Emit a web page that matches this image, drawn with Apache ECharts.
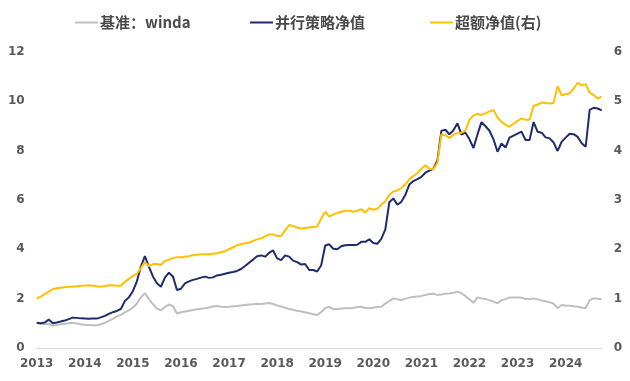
<!DOCTYPE html>
<html>
<head>
<meta charset="utf-8">
<script src="https://cdn.jsdelivr.net/npm/echarts@6/dist/echarts.min.js"></script>
<style>
html,body{margin:0;padding:0;background:#fff;}
#chart{width:630px;height:381px;}
</style>
</head>
<body>
<div id="chart"></div>
<script>
// Monthly categories from 2013-01 (142 months)
const startYear = 2013;
const monthCount = 142;
const months = [];
for (let k = 0; k < monthCount; k++) {
  const y = startYear + Math.floor(k / 12);
  const m = (k % 12) + 1;
  months.push(y + '-' + (m < 10 ? '0' + m : '' + m));
}
const yearLabels = ['2013','2014','2015','2016','2017','2018','2019','2020','2021','2022','2023','2024'];

const seriesNames = ['基准：winda', '并行策略净值', '超额净值(右)'];

// 基准：winda (left axis)
const benchmark = [
1.00,0.98,0.97,0.98,0.90,0.93,0.96,0.98,1.00,1.02,0.99,0.96,
0.94,0.93,0.92,0.92,0.96,1.02,1.10,1.18,1.28,1.34,1.44,1.52,
1.64,1.80,2.05,2.22,1.98,1.78,1.60,1.52,1.66,1.76,1.70,1.40,
1.45,1.48,1.51,1.54,1.57,1.59,1.61,1.64,1.68,1.70,1.67,1.66,
1.67,1.69,1.70,1.72,1.74,1.76,1.77,1.79,1.78,1.80,1.82,1.78,
1.72,1.68,1.63,1.58,1.55,1.51,1.48,1.45,1.41,1.37,1.34,1.45,
1.62,1.66,1.58,1.58,1.60,1.61,1.61,1.62,1.66,1.67,1.62,1.61,
1.63,1.66,1.67,1.80,1.90,2.01,1.97,1.94,2.00,2.04,2.07,2.09,
2.11,2.15,2.19,2.20,2.15,2.17,2.20,2.21,2.24,2.28,2.22,2.10,
1.97,1.83,2.05,2.01,1.98,1.94,1.88,1.81,1.94,1.98,2.05,2.05,
2.05,2.04,1.98,1.97,2.01,1.97,1.92,1.89,1.85,1.80,1.62,1.74,
1.72,1.71,1.69,1.67,1.64,1.61,1.94,2.01,1.99,1.97
];

// 并行策略净值 (left axis)
const strategy = [
1.02,1.00,1.03,1.15,1.00,1.03,1.07,1.11,1.17,1.23,1.22,1.20,
1.19,1.18,1.19,1.19,1.24,1.30,1.38,1.45,1.50,1.58,1.90,2.05,
2.30,2.70,3.30,3.72,3.30,2.90,2.62,2.48,2.85,3.05,2.90,2.35,
2.40,2.62,2.70,2.76,2.80,2.85,2.89,2.84,2.86,2.94,2.97,3.01,
3.05,3.08,3.12,3.20,3.32,3.45,3.58,3.72,3.75,3.70,3.85,3.95,
3.63,3.56,3.75,3.70,3.54,3.48,3.38,3.40,3.16,3.16,3.10,3.35,
4.15,4.20,4.02,4.00,4.12,4.16,4.17,4.17,4.18,4.30,4.30,4.40,
4.25,4.22,4.42,4.80,5.90,6.06,5.80,5.92,6.20,6.62,6.76,6.84,
6.93,7.10,7.18,7.26,7.60,8.80,8.84,8.65,8.82,9.10,8.64,8.72,
8.45,8.10,8.65,9.15,8.98,8.80,8.45,7.95,8.28,8.12,8.52,8.60,
8.68,8.76,8.42,8.42,9.15,8.76,8.72,8.53,8.49,8.32,7.98,8.35,
8.52,8.68,8.66,8.55,8.29,8.15,9.64,9.73,9.70,9.62
];

// 超额净值 (right axis)
const excess = [
1.00,1.04,1.09,1.14,1.19,1.21,1.22,1.23,1.24,1.24,1.25,1.26,
1.26,1.27,1.26,1.25,1.24,1.25,1.27,1.27,1.26,1.26,1.34,1.40,
1.46,1.50,1.62,1.74,1.66,1.70,1.70,1.68,1.76,1.79,1.82,1.84,
1.84,1.85,1.86,1.88,1.89,1.90,1.90,1.90,1.91,1.92,1.94,1.96,
2.00,2.04,2.08,2.10,2.12,2.13,2.17,2.20,2.22,2.26,2.30,2.30,
2.27,2.27,2.38,2.49,2.47,2.44,2.42,2.43,2.44,2.45,2.46,2.62,
2.76,2.66,2.70,2.73,2.76,2.78,2.78,2.76,2.78,2.81,2.74,2.83,
2.80,2.82,2.90,2.97,3.10,3.17,3.19,3.24,3.31,3.42,3.48,3.54,
3.63,3.70,3.63,3.62,3.75,4.33,4.31,4.25,4.32,4.35,4.36,4.40,
4.62,4.71,4.74,4.72,4.75,4.79,4.82,4.67,4.58,4.52,4.48,4.54,
4.60,4.65,4.62,4.62,4.90,4.93,4.97,4.96,4.95,4.96,5.30,5.12,
5.14,5.16,5.25,5.37,5.32,5.34,5.17,5.12,5.05,5.09
];

const leftTicks = [0, 12, 2];
const rightTicks = [0, 6, 1];

const colors = ['#bfbfbf', '#1f2c6b', '#ffc000'];
const labelFont = "'DejaVu Sans', sans-serif";
const legendFont = "'Noto Sans CJK SC', sans-serif";

function legendAt(name, left) {
  return {
    data: [name], left: left, top: 10,
    icon: 'rect', itemWidth: 23, itemHeight: 2,
    itemGap: 0,
    textStyle: { color: '#4a4a4a', fontSize: 15, fontWeight: 'bold', fontFamily: legendFont, padding: [0, 0, 0, -3] },
    selectedMode: false
  };
}

const axisLabelStyle = { color: '#595959', fontSize: 12, fontWeight: 'bold', fontFamily: labelFont };

const chart = echarts.init(document.getElementById('chart'), null, { renderer: 'canvas' });
chart.setOption({
  animation: false,
  backgroundColor: '#ffffff',
  color: colors,
  legend: [legendAt(seriesNames[0], 70), legendAt(seriesNames[1], 245), legendAt(seriesNames[2], 425)],
  grid: { left: 36.7, right: 28.3, top: 51.7, bottom: 33, containLabel: false },
  xAxis: {
    type: 'category', data: months, boundaryGap: false,
    axisLine: { show: true, lineStyle: { color: '#d9d9d9', width: 1 } },
    axisTick: { show: false },
    splitLine: { show: false },
    axisLabel: Object.assign({}, axisLabelStyle, {
      margin: 10,
      interval: function (idx, val) { return yearLabels.indexOf(val.slice(0, 4)) >= 0 && val.slice(5) === '01'; },
      formatter: function (val) { return val.slice(0, 4); }
    })
  },
  yAxis: [
    {
      type: 'value', min: leftTicks[0], max: leftTicks[1], interval: leftTicks[2],
      axisLine: { show: false }, axisTick: { show: false }, splitLine: { show: false },
      axisLabel: Object.assign({}, axisLabelStyle, { margin: 12 })
    },
    {
      type: 'value', min: rightTicks[0], max: rightTicks[1], interval: rightTicks[2], position: 'right',
      axisLine: { show: false }, axisTick: { show: false }, splitLine: { show: false },
      axisLabel: Object.assign({}, axisLabelStyle, { margin: 12 })
    }
  ],
  series: [
    { name: seriesNames[0], type: 'line', data: benchmark, yAxisIndex: 0, symbol: 'none', lineStyle: { width: 2, color: colors[0] }, itemStyle: { color: colors[0] } },
    { name: seriesNames[1], type: 'line', data: strategy, yAxisIndex: 0, symbol: 'none', lineStyle: { width: 2, color: colors[1] }, itemStyle: { color: colors[1] } },
    { name: seriesNames[2], type: 'line', data: excess, yAxisIndex: 1, symbol: 'none', lineStyle: { width: 2, color: colors[2] }, itemStyle: { color: colors[2] } }
  ]
});
</script>
</body>
</html>
